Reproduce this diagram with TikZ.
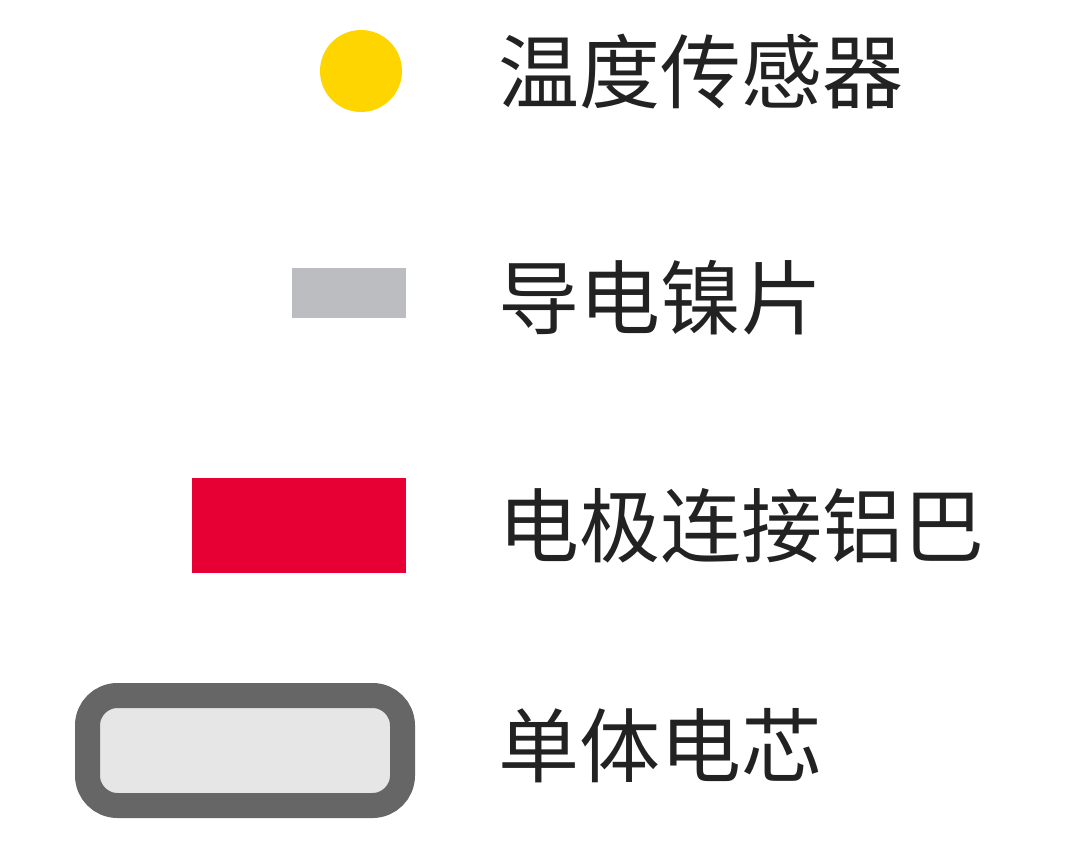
\documentclass[tikz,border=0pt]{standalone}
\usepackage{fontspec}
\newfontfamily\cjk{Noto Sans CJK SC}
\definecolor{sensor}{HTML}{FFD500}
\definecolor{nickel}{HTML}{BCBDC0}
\definecolor{alu}{HTML}{E60033}
\definecolor{cellfill}{HTML}{E6E6E6}
\definecolor{celledge}{HTML}{666666}
\definecolor{txt}{HTML}{222222}
\begin{document}
\begin{tikzpicture}[x=1pt,y=-1pt,
  lbl/.style={anchor=west,inner sep=0pt,text=txt,font=\cjk\fontsize{81}{92}\selectfont}]
\useasboundingbox (0,0) rectangle (1080,864);
\fill[white] (0,0) rectangle (1080,864);
\fill[sensor] (361,71) circle (41) coordinate (s);
\node[lbl] (t1) at (498,72) {温度传感器};
\fill[nickel] (292,268) rectangle (406,318);
\node[lbl] (t2) at (498,298) {导电镍片};
\fill[alu] (192,478) rectangle (406,573);
\node[lbl] (t3) at (498,526) {电极连接铝巴};
\draw[celledge,line width=25,fill=cellfill,rounded corners=30] (87.5,695.5) rectangle (402.5,805.5);
\node[lbl] (t4) at (498,746) {单体电芯};
\end{tikzpicture}
\end{document}
